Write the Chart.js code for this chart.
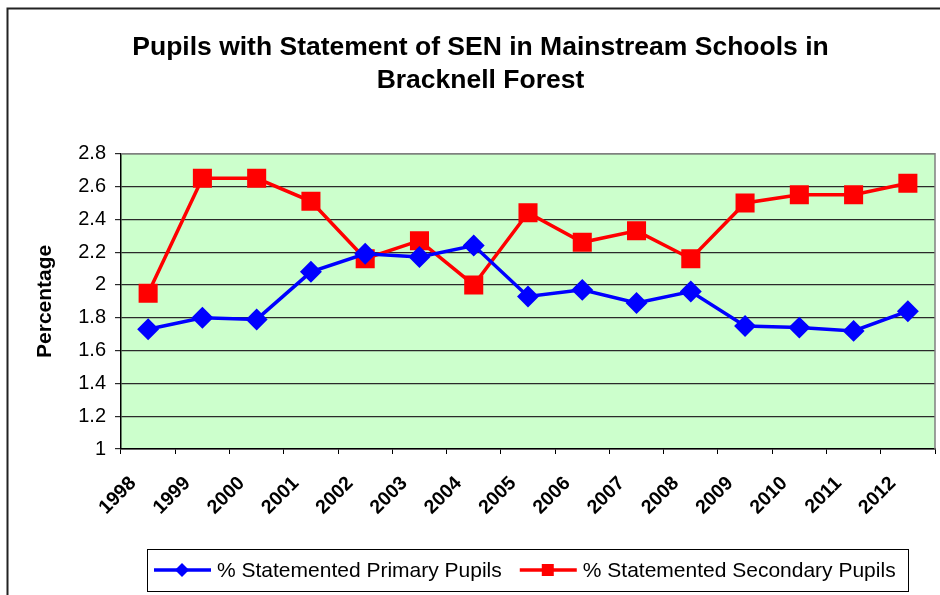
<!DOCTYPE html>
<html>
<head>
<meta charset="utf-8">
<script src="https://cdn.jsdelivr.net/npm/chart.js@4.4.1/dist/chart.umd.min.js"></script>
<style>
  html, body { margin: 0; padding: 0; background: #fff; }
  #wrap { width: 940px; height: 595px; }
</style>
</head>
<body>
<div id="wrap"><canvas id="senChart" width="940" height="595"></canvas></div>
<script>
// Years along the x axis
const years = ['1998', '1999', '2000', '2001', '2002', '2003', '2004', '2005',
               '2006', '2007', '2008', '2009', '2010', '2011', '2012'];

// Percentages
const primaryPct   = [1.73, 1.80, 1.79, 2.08, 2.19, 2.17, 2.24, 1.93, 1.97, 1.89, 1.96, 1.75, 1.74, 1.72, 1.84];
const secondaryPct = [1.95, 2.65, 2.65, 2.51, 2.16, 2.27, 2.00, 2.44, 2.26, 2.33, 2.16, 2.50, 2.55, 2.55, 2.62];

const seriesNames = ['% Statemented Primary Pupils', '% Statemented Secondary Pupils'];

const FONT = 'Arial, "Liberation Sans", sans-serif';

// Green plot background, grey plot border and the outer frame
const frameAndBackground = {
    id: 'frameAndBackground',
    beforeDraw(chart) {
        const { ctx, chartArea: a } = chart;
        ctx.save();
        ctx.fillStyle = '#ccffcc';
        ctx.fillRect(a.left, a.top, a.right - a.left, a.bottom - a.top);
        // outer chart frame (runs off the right and bottom of the picture)
        ctx.strokeStyle = '#222';
        ctx.lineWidth = 2;
        ctx.beginPath();
        ctx.moveTo(7.5, 600);
        ctx.lineTo(7.5, 8.5);
        ctx.lineTo(945, 8.5);
        ctx.stroke();
        ctx.restore();
    },
    afterDatasetsDraw(chart) {
        const { ctx, chartArea: a } = chart;
        ctx.save();
        ctx.strokeStyle = '#808080';
        ctx.lineWidth = 1.5;
        ctx.beginPath();
        ctx.moveTo(a.left, a.top);
        ctx.lineTo(a.right, a.top);
        ctx.lineTo(a.right, a.bottom);
        ctx.stroke();
        ctx.restore();
    }
};

// Excel-style boxed legend with line + marker samples
const boxedLegend = {
    id: 'boxedLegend',
    afterDraw(chart) {
        const { ctx } = chart;
        const y = 570;
        ctx.save();
        ctx.strokeStyle = '#000';
        ctx.lineWidth = 1;
        ctx.strokeRect(147.5, 549.5, 761, 42);

        ctx.font = '21px ' + FONT;
        ctx.textBaseline = 'middle';
        ctx.textAlign = 'left';

        let x = 154;
        chart.data.datasets.forEach((ds, i) => {
            ctx.strokeStyle = ds.borderColor;
            ctx.lineWidth = 3.5;
            ctx.beginPath();
            ctx.moveTo(x, y);
            ctx.lineTo(x + 57, y);
            ctx.stroke();

            const cx = x + 28;
            ctx.fillStyle = ds.pointBackgroundColor;
            ctx.beginPath();
            if (ds.pointStyle === 'rectRot') {
                ctx.moveTo(cx, y - 7);
                ctx.lineTo(cx + 7, y);
                ctx.lineTo(cx, y + 7);
                ctx.lineTo(cx - 7, y);
                ctx.closePath();
            } else {
                ctx.rect(cx - 6, y - 6, 12, 12);
            }
            ctx.fill();

            ctx.fillStyle = '#000';
            ctx.fillText(ds.label, x + 63, y + 1);
            x += 63 + ctx.measureText(ds.label).width + 18;
        });
        ctx.restore();
    }
};

const ctx = document.getElementById('senChart').getContext('2d');

new Chart(ctx, {
    type: 'line',
    data: {
        labels: years,
        datasets: [
            {
                label: seriesNames[0],
                data: primaryPct,
                borderColor: '#0000ff',
                backgroundColor: '#0000ff',
                pointBackgroundColor: '#0000ff',
                pointBorderColor: '#0000ff',
                pointStyle: 'rectRot',
                pointRadius: 8.5,
                pointHoverRadius: 8.5,
                borderWidth: 3.5,
                tension: 0
            },
            {
                label: seriesNames[1],
                data: secondaryPct,
                borderColor: '#ff0000',
                backgroundColor: '#ff0000',
                pointBackgroundColor: '#ff0000',
                pointBorderColor: '#ff0000',
                pointStyle: 'rect',
                pointRadius: 11,
                pointHoverRadius: 11,
                borderWidth: 3.5,
                tension: 0
            }
        ]
    },
    options: {
        responsive: false,
        animation: false,
        events: [],
        layout: { autoPadding: false, padding: { left: 26, right: 5, top: 0, bottom: 46 } },
        plugins: {
            legend: { display: false },
            tooltip: { enabled: false },
            title: {
                display: true,
                text: ['Pupils with Statement of SEN in Mainstream Schools in', 'Bracknell Forest'],
                color: '#000',
                font: { family: FONT, size: 26.5, weight: 'bold', lineHeight: 1.24 },
                padding: { top: 31, bottom: 57 }
            }
        },
        scales: {
            x: {
                offset: true,
                grid: {
                    offset: true,
                    drawOnChartArea: false,
                    color: '#000',
                    tickLength: 5
                },
                border: { color: '#000', width: 1.5 },
                ticks: {
                    color: '#000',
                    font: { family: FONT, size: 19.5, weight: 'bold' },
                    minRotation: 45,
                    maxRotation: 45,
                    autoSkip: false,
                    padding: 18,
                    labelOffset: -15
                },
                afterFit(scale) {
                    scale.height = 100;
                    scale.paddingLeft = 0;
                    scale.paddingRight = 0;
                }
            },
            y: {
                min: 1,
                max: 2.8,
                ticks: {
                    stepSize: 0.2,
                    color: '#000',
                    font: { family: FONT, size: 20 },
                    padding: 9,
                    callback: v => Number(v.toFixed(1)).toString()
                },
                grid: {
                    color: '#2a2a2a',
                    lineWidth: 1.2,
                    tickLength: 6
                },
                border: { color: '#000', width: 1.5 },
                title: {
                    display: true,
                    text: 'Percentage',
                    color: '#000',
                    font: { family: FONT, size: 21, weight: 'bold' },
                    padding: { top: 7, bottom: 0 }
                },
                afterFit(scale) { scale.width = 95; }
            }
        }
    },
    plugins: [frameAndBackground, boxedLegend]
});
</script>
</body>
</html>
